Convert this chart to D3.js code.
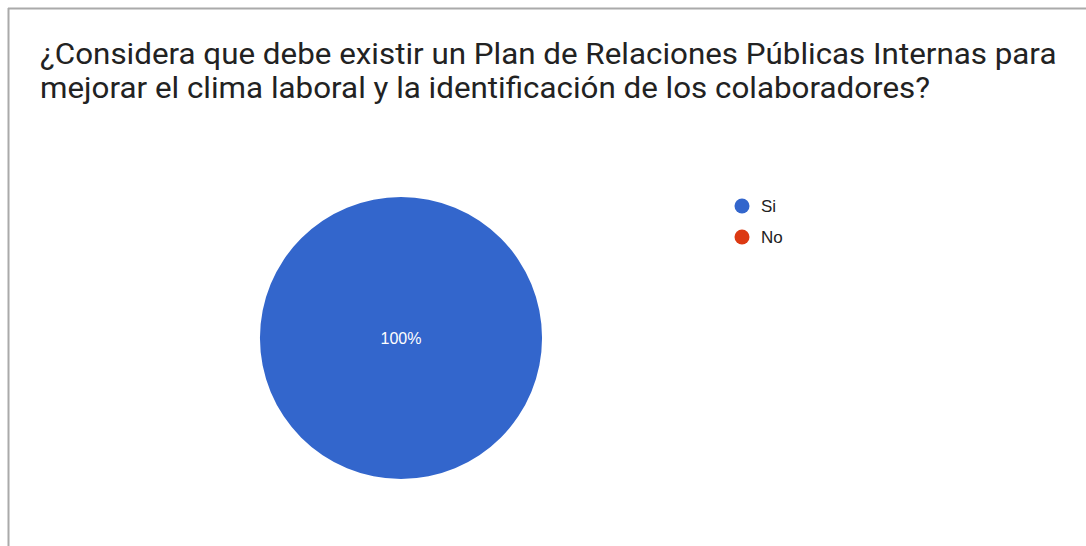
<!DOCTYPE html>
<html>
<head>
<meta charset="utf-8">
<script src="https://cdn.jsdelivr.net/npm/d3@7"></script>
<style>
  body { margin: 0; background: #fff; }
  svg { display: block; }
</style>
</head>
<body>
<div id="chart"></div>
<script>
var categories = ["Si", "No"];
var values = [100, 0];
var colors = ["#3366cc", "#dc3912"];
var titleLines = [
  "¿Considera que debe existir un Plan de Relaciones Públicas Internas para",
  "mejorar el clima laboral y la identificación de los colaboradores?"
];

var width = 1086, height = 546;

var svg = d3.select("#chart")
  .append("svg")
    .attr("width", width)
    .attr("height", height);

// frame (top and left edges visible)
svg.append("line")
  .attr("x1", 8).attr("y1", 8.5).attr("x2", width).attr("y2", 8.5)
  .attr("stroke", "#aaa").attr("stroke-width", 2);
svg.append("line")
  .attr("x1", 8.5).attr("y1", 8).attr("x2", 8.5).attr("y2", height)
  .attr("stroke", "#aaa").attr("stroke-width", 2);

// title, widened a bit like the source image
var title = svg.append("g").attr("class", "title");
title.selectAll("text")
  .data(titleLines)
  .enter()
  .append("text")
    .attr("x", 0)
    .attr("y", function(d, i) { return 64 + i * 34; })
    .attr("font-family", "Roboto, sans-serif")
    .attr("font-size", "29px")
    .attr("fill", "#222")
    .text(function(d) { return d; });

var w0 = title.select("text").node().getComputedTextLength();
var sx = 1017 / w0;
title.attr("transform", "translate(40,0) scale(" + sx + ",1)");

// pie
var cx = 401, cy = 338, r = 141;
var pie = d3.pie().sort(null).value(function(d) { return d; });
var arc = d3.arc().innerRadius(0).outerRadius(r);
var color = d3.scaleOrdinal().domain(categories).range(colors);

var g = svg.append("g").attr("transform", "translate(" + cx + "," + cy + ")");
var arcs = pie(values);

g.selectAll("path")
  .data(arcs)
  .enter()
  .append("path")
    .attr("d", arc)
    .attr("fill", function(d, i) { return color(categories[i]); })
    .attr("stroke", "none");

var total = d3.sum(values);
g.selectAll(".lbl")
  .data(arcs.filter(function(d) { return d.value > 0; }))
  .enter()
  .append("text")
    .attr("class", "lbl")
    .attr("transform", function(d) {
      if (d.endAngle - d.startAngle >= 2 * Math.PI - 1e-6) return "translate(0,0)";
      return "translate(" + d3.arc().innerRadius(r * 0.6).outerRadius(r * 0.6).centroid(d) + ")";
    })
    .attr("dy", "0.35em")
    .attr("text-anchor", "middle")
    .attr("font-family", "Arial, 'Liberation Sans', sans-serif")
    .attr("font-size", "16px")
    .attr("fill", "#fff")
    .text(function(d) { return Math.round(d.value / total * 100) + "%"; });

// legend
var legend = svg.append("g").attr("transform", "translate(742,206)");
var item = legend.selectAll(".item")
  .data(categories)
  .enter()
  .append("g")
    .attr("class", "item")
    .attr("transform", function(d, i) { return "translate(0," + i * 31 + ")"; });

item.append("circle")
  .attr("r", 7.5)
  .attr("fill", function(d) { return color(d); });

item.append("text")
  .attr("x", 19)
  .attr("dy", "0.35em")
  .attr("font-family", "Arial, 'Liberation Sans', sans-serif")
  .attr("font-size", "17px")
  .attr("fill", "#222")
  .text(function(d) { return d; });
</script>
</body>
</html>
